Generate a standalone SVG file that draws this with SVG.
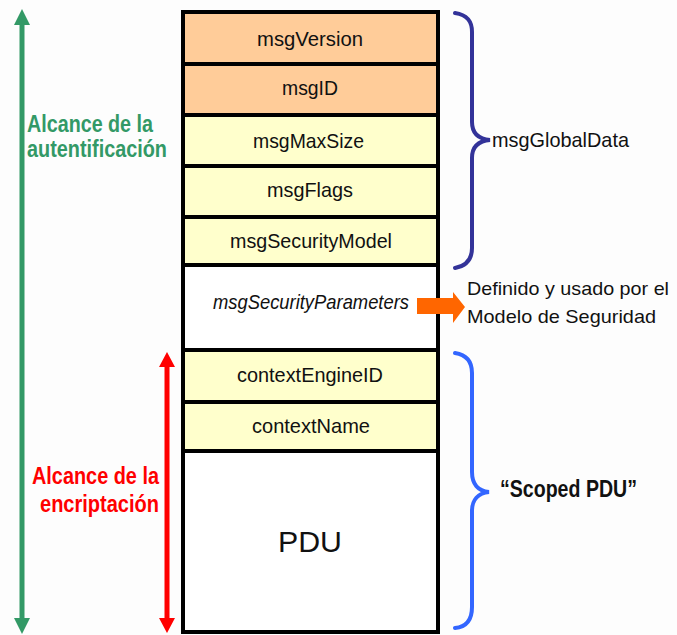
<svg xmlns="http://www.w3.org/2000/svg" width="677" height="635" viewBox="0 0 677 635">
  <style>
    .row { stroke: #000; stroke-width: 4; }
    .orange { fill: #ffcc99; }
    .yellow { fill: #ffffcc; }
    .white { fill: #ffffff; }
    .field { font-family: "Liberation Sans", Arial, sans-serif; font-size: 21px; fill: #111; text-anchor: start; }
    .note { font-family: "Liberation Sans", Arial, sans-serif; font-size: 21px; fill: #111; }
    .scope { font-family: "Liberation Sans", Arial, sans-serif; font-size: 23px; font-weight: bold; }
  </style>

  <rect x="0" y="0" width="677" height="635" fill="#fdfdfd"/>

  <!-- message layout column -->
  <g id="msgVersion">
    <rect class="row orange" x="183" y="12" width="255" height="52"/>
    <text class="field" x="257" y="46" textLength="106" lengthAdjust="spacingAndGlyphs">msgVersion</text>
  </g>
  <g id="msgID">
    <rect class="row orange" x="183" y="64" width="255" height="51"/>
    <text class="field" x="282" y="95" textLength="56" lengthAdjust="spacingAndGlyphs">msgID</text>
  </g>
  <g id="msgMaxSize">
    <rect class="row yellow" x="183" y="115" width="255" height="51"/>
    <text class="field" x="253" y="148" textLength="111" lengthAdjust="spacingAndGlyphs">msgMaxSize</text>
  </g>
  <g id="msgFlags">
    <rect class="row yellow" x="183" y="166" width="255" height="51"/>
    <text class="field" x="267" y="197" textLength="86" lengthAdjust="spacingAndGlyphs">msgFlags</text>
  </g>
  <g id="msgSecurityModel">
    <rect class="row yellow" x="183" y="217" width="255" height="48"/>
    <text class="field" x="230" y="248" textLength="162" lengthAdjust="spacingAndGlyphs">msgSecurityModel</text>
  </g>
  <g id="msgSecurityParameters">
    <rect class="row white" x="183" y="265" width="255" height="85"/>
    <text class="field" x="213" y="309" style="font-style:italic" textLength="196" lengthAdjust="spacingAndGlyphs">msgSecurityParameters</text>
  </g>
  <g id="contextEngineID">
    <rect class="row yellow" x="183" y="350" width="255" height="52"/>
    <text class="field" x="237" y="382" textLength="146" lengthAdjust="spacingAndGlyphs">contextEngineID</text>
  </g>
  <g id="contextName">
    <rect class="row yellow" x="183" y="402" width="255" height="49"/>
    <text class="field" x="252" y="433" textLength="118" lengthAdjust="spacingAndGlyphs">contextName</text>
  </g>
  <g id="PDU">
    <rect class="row white" x="183" y="451" width="255" height="181"/>
    <text class="field" x="278" y="552" style="font-size:30px" textLength="64" lengthAdjust="spacingAndGlyphs">PDU</text>
  </g>

  <!-- scope arrows, braces and pointer -->
  <g id="connectors">
    <!-- authentication scope -->
    <line x1="22" y1="22" x2="22" y2="621" stroke="#339966" stroke-width="5"/>
    <polygon points="22,9 14,25 30,25" fill="#339966"/>
    <polygon points="22,634 14,618 30,618" fill="#339966"/>
    <!-- encryption scope -->
    <line x1="167" y1="364" x2="167" y2="621" stroke="#ff0000" stroke-width="5"/>
    <polygon points="167,352 159,367 175,367" fill="#ff0000"/>
    <polygon points="167,633 159,618 175,618" fill="#ff0000"/>
    <!-- security parameters pointer -->
    <polygon points="417,298 453,298 453,292 465,307 453,323 453,314 417,314" fill="#ff6600"/>
    <!-- msgGlobalData brace -->
    <path d="M455,13 C468,15 472,22 472,32 L472,122 C472,133 478,139 490,140 C478,141 472,147 472,158 L472,248 C472,260 466,266 455,268" fill="none" stroke="#333399" stroke-width="4" stroke-linecap="round"/>
    <!-- Scoped PDU brace -->
    <path d="M455,353 C468,355 472,363 472,373 L472,472 C472,484 478,491 489,492 C478,493 472,500 472,511 L472,607 C472,620 466,627 455,628" fill="none" stroke="#3366ff" stroke-width="4" stroke-linecap="round"/>
  </g>

  <!-- side labels -->
  <g id="authLabel" class="scope" fill="#339966">
    <text x="27" y="132" textLength="126" lengthAdjust="spacingAndGlyphs">Alcance de la</text>
    <text x="27" y="157" textLength="140" lengthAdjust="spacingAndGlyphs">autentificación</text>
  </g>
  <g id="encLabel" class="scope" fill="#ff0000">
    <text x="32" y="484" textLength="127" lengthAdjust="spacingAndGlyphs">Alcance de la</text>
    <text x="40" y="512" textLength="119" lengthAdjust="spacingAndGlyphs">encriptación</text>
  </g>
  <g id="globalDataLabel">
    <text class="note" x="492" y="147" textLength="137" lengthAdjust="spacingAndGlyphs">msgGlobalData</text>
  </g>
  <g id="securityModelLabel">
    <text class="note" x="467" y="295" style="font-size:19px" textLength="202" lengthAdjust="spacingAndGlyphs">Definido y usado por el</text>
    <text class="note" x="467" y="323" style="font-size:19px" textLength="189" lengthAdjust="spacingAndGlyphs">Modelo de Seguridad</text>
  </g>
  <g id="scopedPduLabel">
    <text class="scope" x="500" y="497" fill="#111" textLength="137" lengthAdjust="spacingAndGlyphs">“Scoped PDU”</text>
  </g>
</svg>
